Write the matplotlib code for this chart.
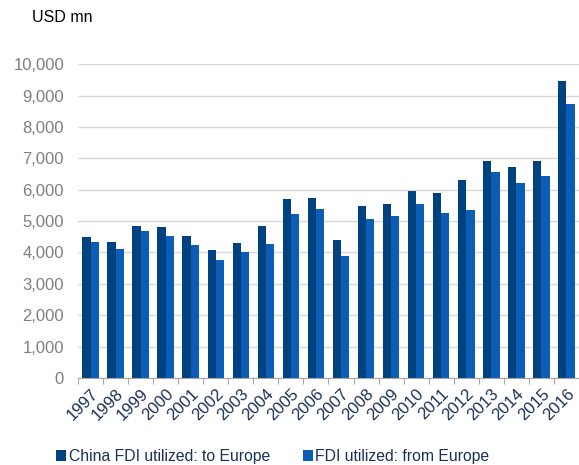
import numpy as np
import matplotlib.pyplot as plt

# China FDI vs Europe, USD mn
years = [str(y) for y in range(1997, 2017)]
to_europe = [4480, 4340, 4830, 4810, 4520, 4090, 4310, 4840, 5690, 5750,
             4400, 5490, 5550, 5960, 5910, 6320, 6930, 6730, 6930, 9470]
from_europe = [4330, 4120, 4680, 4510, 4240, 3750, 4010, 4260, 5230, 5370,
               3890, 5060, 5170, 5560, 5250, 5340, 6580, 6210, 6430, 8730]

dark = '#00427F'
light = '#0B5DB5'
navy = '#1A2F5A'

plt.rcParams['font.family'] = ['Liberation Sans', 'DejaVu Sans']

fig = plt.figure(figsize=(5.79, 4.65), dpi=100)
ax = fig.add_axes([0.1347, 0.187, 0.8653, 0.675])

x = np.arange(len(years))
w = 0.33
ax.bar(x - w / 2, to_europe, w, color=dark, label='China FDI utilized: to Europe')
ax.bar(x + w / 2, from_europe, w, color=light, label='FDI utilized: from Europe')

ax.set_xlim(-0.5, len(years) - 0.5)
ax.set_ylim(0, 10000)
ax.set_yticks(range(0, 10001, 1000))
ax.set_yticklabels([f'{v:,}' for v in range(0, 10001, 1000)])
ax.yaxis.grid(True, color='#D9D9D9', linewidth=1)
ax.set_axisbelow(True)

for s in ['top', 'right', 'left']:
    ax.spines[s].set_visible(False)
ax.spines['bottom'].set_color('#A6A6A6')

# ticks between categories, labels at the centres
ax.set_xticks(np.arange(-0.5, len(years), 1), minor=False)
ax.set_xticklabels([])
ax.tick_params(axis='x', length=4, color='#A6A6A6', direction='out')
ax.set_xticks(x, minor=True)
ax.set_xticklabels(years, minor=True, rotation=45, ha='right', va='top',
                   rotation_mode='anchor', color=navy, fontsize=12)
ax.tick_params(axis='x', which='minor', length=0, pad=6)
ax.tick_params(axis='y', length=0, labelcolor='#7F7F7F', labelsize=12, pad=10)

fig.text(0.055, 0.962, 'USD mn', fontsize=11.5, color='black', va='center')

leg = fig.legend(loc='center', bbox_to_anchor=(0.471, 0.018), ncol=2, frameon=False,
                 fontsize=11.3, handlelength=0.65, handleheight=0.65, handletextpad=0.15,
                 columnspacing=2.1, borderaxespad=0, borderpad=0)
for t in leg.get_texts():
    t.set_color(navy)

fig.savefig('out.png', dpi=100)
